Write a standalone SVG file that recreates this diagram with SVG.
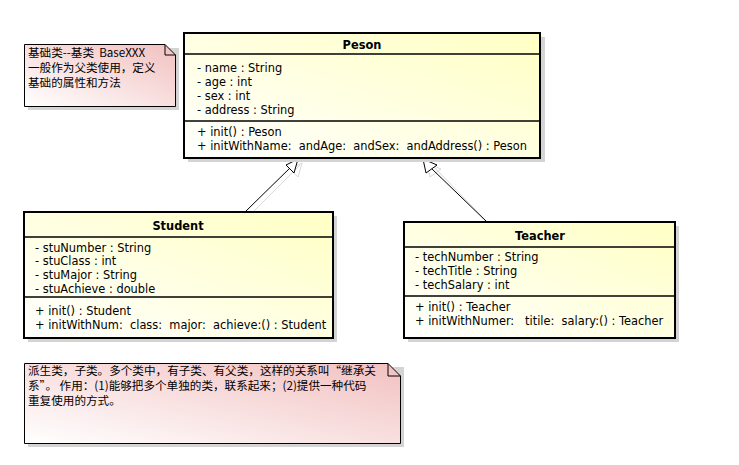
<svg xmlns="http://www.w3.org/2000/svg" width="739" height="465" viewBox="0 0 739 465">
<style>
text{white-space:pre}
.cls{stroke:#000;stroke-width:2;fill:url(#gy)}
.note{stroke:#000;stroke-width:1;fill:url(#gp)}
.sh{fill:#d4d4d4}
.ln{stroke:#000;stroke-width:1.5}
.t{font-family:"DejaVu Sans","Noto Sans",sans-serif;font-size:11.4px;fill:#000}
.b{font-weight:bold;text-anchor:middle}
.n{font-family:"Noto Sans CJK SC","DejaVu Sans",sans-serif;font-size:11.6px;fill:#000}
.con{stroke:#000;stroke-width:1;fill:none}
.consh{stroke:#d8d8d8;stroke-width:1;fill:none}
.head{stroke:#000;stroke-width:1;fill:#fff}
.headsh{stroke:#d8d8d8;stroke-width:1;fill:none}
</style>
<defs>
<linearGradient id="gy" x1="0" y1="1" x2="1" y2="0">
<stop offset="0" stop-color="#ffffff"/>
<stop offset="1" stop-color="#ffffc4"/>
</linearGradient>
<linearGradient id="gp" x1="0" y1="1" x2="1" y2="0">
<stop offset="0" stop-color="#ffffff"/>
<stop offset="1" stop-color="#f2c0c0"/>
</linearGradient>
</defs>
<rect width="739" height="465" fill="#fff"/>

<g id="connectors">
<line class="consh" x1="249" y1="216" x2="300" y2="165"/>
<path class="headsh" d="M302,163 L298,177 L290,169 Z"/>
<line class="consh" x1="491" y1="226" x2="432" y2="165"/>
<path class="headsh" d="M427,163 L441,169 L430,177 Z"/>
<line class="con" x1="245" y1="212" x2="292" y2="166"/>
<path class="head" d="M298,159 L294,173 L286,165 Z"/>
<line class="con" x1="487" y1="222" x2="431" y2="168"/>
<path class="head" d="M423,159 L437,165 L426,173 Z"/>
</g>

<g id="note-base">
<path class="sh" d="M28,48 H179 V110 H28 Z"/>
<path class="note" d="M24.5,44.5 H165 L175.5,55 V106.5 H24.5 Z"/>
<path d="M165,44.5 V55 H175.5" fill="none" stroke="#000" stroke-width="1"/>
<text class="n" x="28" y="57">基础类--基类  BaseXXX</text>
<text class="n" x="28" y="72">一般作为父类使用，定义</text>
<text class="n" x="28" y="87">基础的属性和方法</text>
</g>

<g id="Peson">
<rect class="sh" x="188" y="37" width="357" height="125"/>
<rect class="cls" x="184" y="33" width="356" height="125"/>
<line class="ln" x1="184" y1="54" x2="540" y2="54"/>
<line class="ln" x1="184" y1="121" x2="540" y2="121"/>
<text class="t b" x="362" y="49">Peson</text>
<text class="t" x="197" y="72">- name : String</text>
<text class="t" x="197" y="86">- age : int</text>
<text class="t" x="197" y="100">- sex : int</text>
<text class="t" x="197" y="114">- address : String</text>
<text class="t" x="197" y="136">+ init() : Peson</text>
<text class="t" x="197" y="150">+ initWithName:  andAge:  andSex:  andAddress() : Peson</text>
</g>

<g id="Student">
<rect class="sh" x="28" y="216" width="309" height="126"/>
<rect class="cls" x="24" y="212" width="309" height="126"/>
<line class="ln" x1="24" y1="237" x2="333" y2="237"/>
<line class="ln" x1="24" y1="297" x2="333" y2="297"/>
<text class="t b" x="178" y="230">Student</text>
<text class="t" x="35" y="252">- stuNumber : String</text>
<text class="t" x="35" y="265">- stuClass : int</text>
<text class="t" x="35" y="279">- stuMajor : String</text>
<text class="t" x="35" y="293">- stuAchieve : double</text>
<text class="t" x="35" y="315">+ init() : Student</text>
<text class="t" x="35" y="329">+ initWithNum:  class:  major:  achieve:() : Student</text>
</g>

<g id="Teacher">
<rect class="sh" x="408" y="226" width="271" height="116"/>
<rect class="cls" x="404" y="222" width="271" height="116"/>
<line class="ln" x1="404" y1="247" x2="675" y2="247"/>
<line class="ln" x1="404" y1="296" x2="675" y2="296"/>
<text class="t b" x="540" y="240">Teacher</text>
<text class="t" x="415" y="261">- techNumber : String</text>
<text class="t" x="415" y="275">- techTitle : String</text>
<text class="t" x="415" y="289">- techSalary : int</text>
<text class="t" x="415" y="311">+ init() : Teacher</text>
<text class="t" x="415" y="325">+ initWithNumer:   titile:  salary:() : Teacher</text>
</g>

<g id="note-derived">
<path class="sh" d="M28,367 H404 V447 H28 Z"/>
<path class="note" d="M24.5,363.5 H388 L400.5,376 V443.5 H24.5 Z"/>
<path d="M388,363.5 V376 H400.5" fill="none" stroke="#000" stroke-width="1"/>
<text class="n" x="28" y="375">派生类，子类。多个类中，有子类、有父类，这样的关系叫“继承关</text>
<text class="n" x="28" y="390">系”。 作用：(1)能够把多个单独的类，联系起来；(2)提供一种代码</text>
<text class="n" x="28" y="405">重复使用的方式。</text>
</g>
</svg>
